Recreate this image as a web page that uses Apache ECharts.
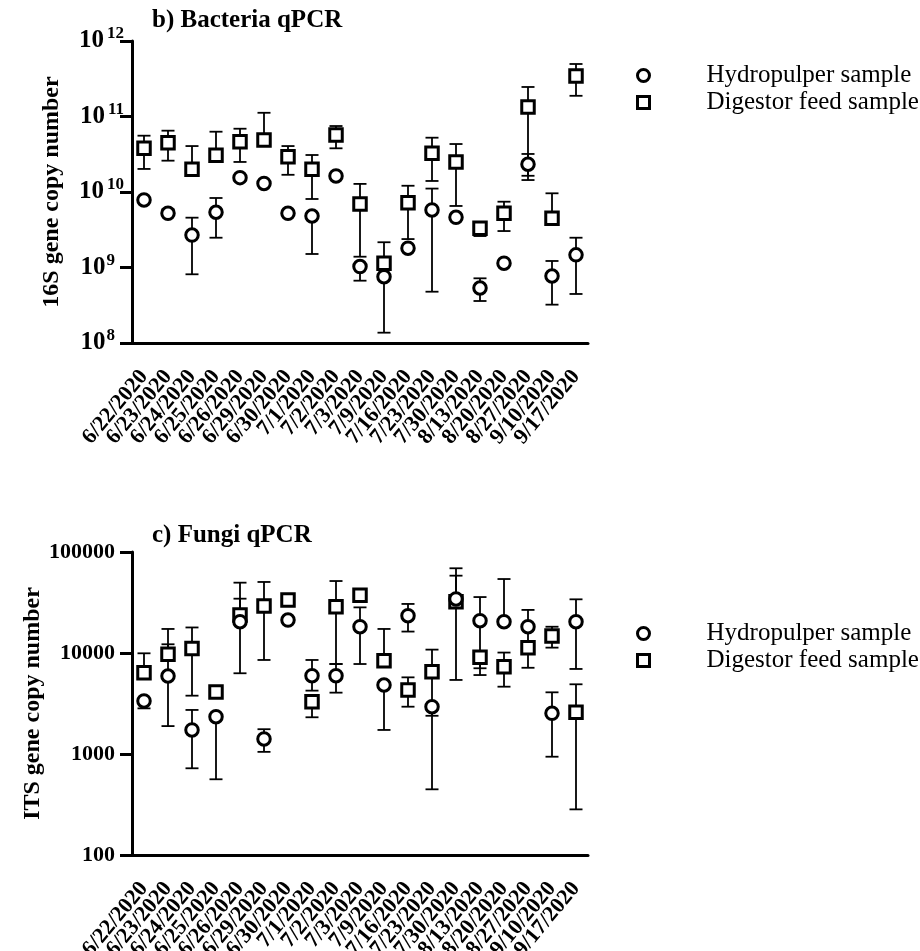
<!DOCTYPE html>
<html><head><meta charset="utf-8">
<script src="https://cdn.jsdelivr.net/npm/echarts@6/dist/echarts.min.js"></script>
<style>html,body{margin:0;padding:0;background:#fff}#c{width:920px;height:951px}</style>
</head><body><div id="c"></div>
<script>
const dates = ['6/22/2020','6/23/2020','6/24/2020','6/25/2020','6/26/2020','6/29/2020','6/30/2020','7/1/2020','7/2/2020','7/3/2020','7/9/2020','7/16/2020','7/23/2020','7/30/2020','8/13/2020','8/20/2020','8/27/2020','9/10/2020','9/17/2020'];

// b) Bacteria qPCR (16S gene copy number)
const bactHydro     = [7.84e9, 5.22e9, 2.69e9, 5.39e9, 1.55e10, 1.30e10, 5.22e9, 4.81e9, 1.63e10, 1.03e9, 7.56e8, 1.80e9, 5.78e9, 4.62e9, 5.35e8, 1.14e9, 2.33e10, 7.72e8, 1.47e9];
const bactHydroLow  = [null, null, 8.13e8, 2.48e9, null, null, null, 1.51e9, null, 6.69e8, 1.37e8, null, 4.78e8, null, 3.60e8, null, 1.44e10, 3.22e8, 4.46e8];
const bactHydroHigh = [null, 5.9e9, 4.57e9, 8.33e9, null, null, null, null, null, null, null, null, 1.11e10, null, 7.19e8, null, 3.19e10, 1.22e9, 2.48e9];
const bactDigest     = [3.79e10, 4.50e10, 2.00e10, 3.06e10, 4.64e10, 4.89e10, 2.94e10, 2.00e10, 5.69e10, 6.94e9, 1.14e9, 7.21e9, 3.26e10, 2.50e10, 3.30e9, 5.22e9, 1.34e11, 4.49e9, 3.44e11];
const bactDigestLow  = [2.02e10, 2.60e10, null, null, 2.50e10, null, 1.69e10, 8.08e9, 3.79e10, 1.39e9, null, 2.38e9, 1.40e10, 6.53e9, 2.61e9, 3.04e9, 1.64e10, null, 1.88e11];
const bactDigestHigh = [5.57e10, 6.49e10, 4.06e10, 6.29e10, 6.89e10, 1.12e11, 4.06e10, 3.09e10, 7.48e10, 1.28e10, 2.16e9, 1.21e10, 5.24e10, 4.32e10, null, 7.44e9, 2.46e11, 9.61e9, 4.96e11];

// c) Fungi qPCR (ITS gene copy number)
const fungiHydro     = [3350, 5920, 1730, 2340, 20400, 1410, 21200, 5960, 5960, 18200, 4820, 23400, 2940, 34300, 20900, 20400, 18200, 2530, 20400];
const fungiHydroLow  = [2830, 1890, 722, 562, 6300, 1050, null, 4240, 4050, 7780, 1730, 16300, 447, 5410, 6050, null, 7140, 940, 6950];
const fungiHydroHigh = [null, 12200, 2730, null, 34500, 1760, null, 8530, 7780, 28300, null, 30600, null, 58300, 35800, 54000, 26700, 4080, 34000];
const fungiDigest     = [6380, 9710, 11100, 4110, 23800, 29200, 33500, 3300, 28700, 37300, 8390, 4300, 6530, 32200, 9060, 7310, 11300, 14700, 2590];
const fungiDigestLow  = [null, null, 3780, null, null, 8530, null, 2310, 7780, null, 7480, 2940, 2390, null, 7060, 4640, null, 11300, 283];
const fungiDigestHigh = [9930, 17300, 17900, 4500, 49700, 50500, null, null, 51600, null, 17300, 5740, 10800, 69000, null, 10100, null, 18200, 4900];

const titles = ['b) Bacteria qPCR', 'c) Fungi qPCR'];
const yNames = ['16S gene copy number', 'ITS gene copy number'];
const seriesNames = ['Hydropulper sample', 'Digestor feed sample'];

const FONT = '"Liberation Serif", "Times New Roman", Times, serif';

function renderErr(params, api) {
  const x = api.value(0), v = api.value(1), lo = api.value(2), hi = api.value(3);
  const pv = api.coord([x, v]);
  const cw = 6.5;
  const style = { stroke: '#000', lineWidth: 1.8 };
  const children = [];
  [hi, lo].forEach(e => {
    if (e !== v && isFinite(e)) {
      const pe = api.coord([x, e]);
      children.push({ type: 'line', shape: { x1: pv[0], y1: pv[1], x2: pe[0], y2: pe[1] }, style });
      children.push({ type: 'line', shape: { x1: pe[0] - cw, y1: pe[1], x2: pe[0] + cw, y2: pe[1] }, style });
    }
  });
  return { type: 'group', children };
}

function errSeries(name, gi, vals, lows, highs) {
  return {
    type: 'custom', name: name, xAxisIndex: gi, yAxisIndex: gi, z: 1, silent: true,
    renderItem: renderErr,
    encode: { x: 0, y: [1, 2, 3] },
    data: vals.map((v, i) => [i, v, lows[i] == null ? v : lows[i], highs[i] == null ? v : highs[i]])
  };
}

function markerSeries(name, gi, vals, symbol) {
  return {
    type: 'scatter', name: name, xAxisIndex: gi, yAxisIndex: gi,
    z: symbol === 'circle' ? 4 : 3,
    symbol: symbol, symbolSize: 12.5,
    itemStyle: { color: '#fff', borderColor: '#000', borderWidth: 3, opacity: 1 },
    data: vals.map((v, i) => [i, v])
  };
}

const grids = [
  { left: 132, top: 41, width: 456, height: 302, containLabel: false, outerBoundsMode: 'none' },
  { left: 132, top: 552, width: 456, height: 303, containLabel: false, outerBoundsMode: 'none' }
];

const axisLineStyle = { color: '#000', width: 3 };

const xAxes = grids.map((g, i) => ({
  type: 'category', gridIndex: i, data: dates, boundaryGap: true,
  axisLine: { lineStyle: axisLineStyle },
  axisTick: { alignWithLabel: true, length: 12, interval: 0, lineStyle: { color: '#000', width: 3 } },
  axisLabel: { interval: 0, rotate: 50, margin: 30, color: '#000', fontFamily: FONT, fontWeight: 'bold', fontSize: 22, hideOverlap: false },
  splitLine: { show: false }
}));

const yAxes = [
  {
    type: 'log', gridIndex: 0, min: 1e8, max: 1e12, logBase: 10,
    name: yNames[0], nameLocation: 'middle', nameRotate: 90, nameGap: 68,
    nameTextStyle: { color: '#000', fontFamily: FONT, fontWeight: 'bold', fontSize: 24 },
    axisLine: { show: true, lineStyle: axisLineStyle },
    axisTick: { show: true, length: 12, lineStyle: { color: '#000', width: 3 } },
    minorTick: { show: false }, splitLine: { show: false },
    axisLabel: {
      margin: 8, color: '#000',
      formatter: v => {
        const e = Math.round(Math.log10(v));
        return '{b|10}{' + (e < 10 ? 's1' : 's') + '|' + e + '}';
      },
      rich: {
        b: { fontFamily: FONT, fontWeight: 'bold', fontSize: 25, color: '#000' },
        s: { fontFamily: FONT, fontWeight: 'bold', fontSize: 17, color: '#000', padding: [0, 0, 14, 3] },
        s1: { fontFamily: FONT, fontWeight: 'bold', fontSize: 17, color: '#000', padding: [0, 9, 14, 1] }
      }
    }
  },
  {
    type: 'log', gridIndex: 1, min: 100, max: 100000, logBase: 10,
    name: yNames[1], nameLocation: 'middle', nameRotate: 90, nameGap: 70,
    nameTextStyle: { color: '#000', fontFamily: FONT, fontWeight: 'bold', fontSize: 24 },
    axisLine: { show: true, lineStyle: axisLineStyle },
    axisTick: { show: true, length: 12, lineStyle: { color: '#000', width: 3 } },
    minorTick: { show: false }, splitLine: { show: false },
    axisLabel: { margin: 17, color: '#000', fontFamily: FONT, fontWeight: 'bold', fontSize: 22, formatter: v => String(Math.round(v)) }
  }
];

const legendBase = {
  orient: 'vertical', left: 631, itemWidth: 12, itemHeight: 12, itemGap: 2,
  data: [{ name: seriesNames[0], icon: 'circle' }, { name: seriesNames[1], icon: 'rect' }],
  itemStyle: { color: '#fff', borderColor: '#000', borderWidth: 3 },
  textStyle: { color: '#000', fontFamily: FONT, fontSize: 25, padding: [0, 0, 0, 52] },
  selectedMode: false
};

const option = {
  backgroundColor: '#fff',
  animation: false,
  title: [
    { text: titles[0], left: 152, top: 8, padding: 0, textStyle: { color: '#000', fontFamily: FONT, fontWeight: 'bold', fontSize: 25 } },
    { text: titles[1], left: 152, top: 523, padding: 0, textStyle: { color: '#000', fontFamily: FONT, fontWeight: 'bold', fontSize: 25 } }
  ],
  legend: [
    Object.assign({}, legendBase, { top: 58 }),
    Object.assign({}, legendBase, { top: 616 })
  ],
  grid: grids,
  xAxis: xAxes,
  yAxis: yAxes,
  series: [
    errSeries('Digestor err b', 0, bactDigest, bactDigestLow, bactDigestHigh),
    errSeries('Hydro err b', 0, bactHydro, bactHydroLow, bactHydroHigh),
    markerSeries(seriesNames[1], 0, bactDigest, 'rect'),
    markerSeries(seriesNames[0], 0, bactHydro, 'circle'),
    errSeries('Digestor err c', 1, fungiDigest, fungiDigestLow, fungiDigestHigh),
    errSeries('Hydro err c', 1, fungiHydro, fungiHydroLow, fungiHydroHigh),
    markerSeries(seriesNames[1], 1, fungiDigest, 'rect'),
    markerSeries(seriesNames[0], 1, fungiHydro, 'circle')
  ]
};

const chart = echarts.init(document.getElementById('c'), null, { renderer: 'canvas' });
chart.setOption(option);
</script>
</body></html>
